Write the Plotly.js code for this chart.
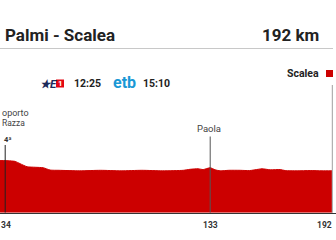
<!DOCTYPE html>
<html>
<head>
<meta charset="utf-8">
<script src="https://cdn.plot.ly/plotly-3.0.1.min.js"></script>
<style>html,body{margin:0;padding:0;background:#fff}#chart{width:336px;height:240px}</style>
</head>
<body>
<div id="chart"></div>
<script>
// ---- data ----
var stageTitle = "Palmi - Scalea";
var stageLength = "192 km";
var distanceKm = [31.5, 34, 37.9, 38.8, 41.2, 44.6, 48.5, 52.4, 55.7, 60, 70, 80, 90, 100, 110, 120, 123.3, 127.2, 129.6, 133, 135.4, 137.8, 142, 147.5, 152, 156.2, 158.1, 162, 166.8, 169.2, 175, 181.3, 187, 192];
var elevationM = [102, 102, 101, 100.5, 96, 90, 89, 88, 83.5, 83, 82, 83, 82, 83, 82, 83, 85, 86, 84.5, 88, 84, 82, 83, 83, 82.5, 85, 86, 84, 84.5, 82.5, 82, 82.5, 82, 82];
var tickVals = [34, 133, 192];
var tickText = ["34", "133", "192"];
var placeKm = [34, 133, 192];
var placeNames = ["oporto<br>Razza", "Paola", "Scalea"];
var climbCategory = "4ª";
var broadcasters = ["E1", "etb"];
var broadcastTimes = ["12:25", "15:10"];

// ---- helpers ----
function px(x){return x/336;}
function py(y){return 1 - y/240;}
var FONT = "Roboto, 'Noto Sans', sans-serif";
var RED = "#cc0000";

var trace = {
  x: distanceKm, y: elevationM, type: "scatter", mode: "lines",
  fill: "tozeroy", fillcolor: RED, line: {color: RED, width: 1, shape: "spline", smoothing: 0.6},
  hoverinfo: "skip"
};

var ann = [];
function A(o){ o.showarrow = false; if(!o.xref) o.xref = "paper"; o.yref = "paper"; ann.push(o); }

A({x: px(2.5), y: py(35), xanchor: "left", yanchor: "middle", text: "<b>" + stageTitle + "</b>", font: {family: FONT, size: 17, color: "#222"}});
A({x: px(321), y: py(35), xanchor: "right", yanchor: "middle", text: "<b>" + stageLength + "</b>", font: {family: FONT, size: 17, color: "#222"}});

// broadcasters
A({x: px(37.5), y: py(83.5), xanchor: "left", yanchor: "middle", text: "<b><i>★E</i></b>", font: {family: FONT, size: 11.5, color: "#1c2b5a"}});
A({x: px(60), y: py(83.5), xanchor: "center", yanchor: "middle", text: "<b>1</b>", font: {family: FONT, size: 8, color: "#fff"}});
A({x: px(72), y: py(83.5), xanchor: "left", yanchor: "middle", text: "<b>" + broadcastTimes[0] + "</b>", font: {family: FONT, size: 10.5, color: "#222"}});
A({x: px(110.5), y: py(82.5), xanchor: "left", yanchor: "middle", text: "<b>" + broadcasters[1] + "</b>", font: {family: FONT, size: 16, color: "#1a98d5"}});
A({x: px(141), y: py(83.5), xanchor: "left", yanchor: "middle", text: "<b>" + broadcastTimes[1] + "</b>", font: {family: FONT, size: 10.5, color: "#222"}});

// places
var firstLines = placeNames[0].split("<br>");
A({x: 0, y: py(113), xanchor: "left", yanchor: "middle", text: firstLines[0], font: {family: FONT, size: 9, color: "#444"}});
A({x: 0, y: py(123.5), xanchor: "left", yanchor: "middle", text: firstLines[1], font: {family: FONT, size: 8.5, color: "#444"}});
A({xref: "x", x: placeKm[0], xshift: 3, y: py(139), xanchor: "center", yanchor: "middle", text: "<b>" + climbCategory + "</b>", font: {family: FONT, size: 7.5, color: "#333"}});
A({xref: "x", x: placeKm[1], xshift: -1, y: py(128.5), xanchor: "center", yanchor: "middle", text: placeNames[1], font: {family: FONT, size: 9.5, color: "#444"}});
A({x: px(321), y: py(73.7), xanchor: "right", yanchor: "middle", text: "<b>" + placeNames[2] + "</b>", font: {family: FONT, size: 10.5, color: "#222"}});

// tick labels
for (var i = 0; i < tickVals.length; i++) {
  var last = i === tickVals.length - 1;
  A({xref: "x", x: tickVals[i], xshift: last ? 1.5 : 0.5, y: py(224.5), xanchor: last ? "right" : "center", yanchor: "middle", text: "<b>" + tickText[i] + "</b>", font: {family: FONT, size: 8.5, color: "#333"}});
}

var shapes = [
  {type: "line", xref: "paper", yref: "paper", x0: 0, x1: px(333), y0: py(48.5), y1: py(48.5), line: {color: "#c8c8c8", width: 1}},
  {type: "rect", xref: "paper", yref: "paper", x0: px(56), x1: px(64), y0: py(79.5), y1: py(87.5), fillcolor: "#e30613", line: {width: 0}},
  {type: "rect", xref: "paper", yref: "paper", x0: px(326), x1: px(333), y0: py(70), y1: py(77), fillcolor: RED, line: {width: 0}},
  {type: "line", xref: "x", yref: "paper", x0: placeKm[0], x1: placeKm[0], y0: py(212.5), y1: py(145), line: {color: "#222", width: 1}},
  {type: "line", xref: "x", yref: "paper", x0: placeKm[1], x1: placeKm[1], y0: py(212.5), y1: py(136.5), line: {color: "#555", width: 1}},
  {type: "line", xref: "x", yref: "paper", x0: placeKm[2], x1: placeKm[2], y0: py(212.5), y1: py(85), line: {color: "#b0b0b0", width: 1.2}}
];

var layout = {
  width: 336, height: 240,
  margin: {l: 0, r: 0, t: 0, b: 0, pad: 0},
  paper_bgcolor: "#fff", plot_bgcolor: "rgba(0,0,0,0)",
  showlegend: false,
  xaxis: {range: [31.49, 193.75], domain: [0, 1], showgrid: false, zeroline: false, showticklabels: false, ticks: "",
          showline: true, linecolor: "#333", linewidth: 1, fixedrange: true},
  yaxis: {range: [0, 416.5], domain: [27.3/240, 1], showgrid: false, zeroline: false, showticklabels: false, ticks: "", showline: false, fixedrange: true},
  annotations: ann,
  shapes: shapes
};

Plotly.newPlot("chart", [trace], layout, {displayModeBar: false, staticPlot: true});
</script>
</body>
</html>
